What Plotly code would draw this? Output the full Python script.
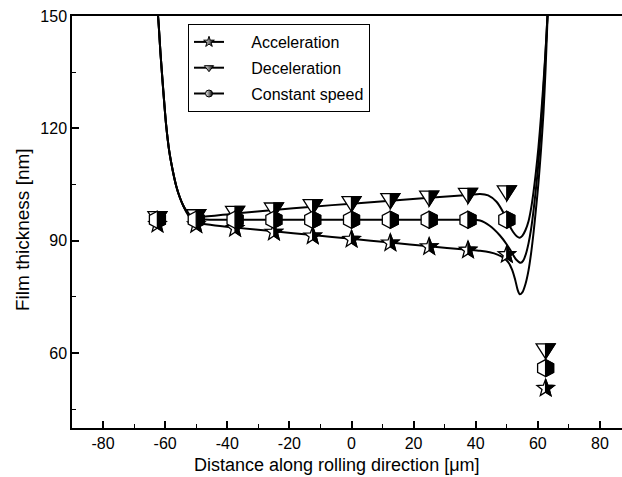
import math
import plotly.graph_objects as go

# ---------------- data ----------------
# simulated film-thickness profiles (lines)
accel_x = [-63.2, -62.3, -61.5, -60.6, -59.7, -58.7, -57.5, -56.4, -55.3, -54.2, -53.2, -52, -50, -45,
           -37.5, -25, -12.5, 0, 12.5, 25, 37.5, 41.4, 44.5, 47, 49, 50.5, 51.7, 52.7, 53.5, 54.2,
           55, 56, 57, 57.8, 58.6, 59.4, 60.2, 61, 61.8, 62.5, 63.1, 63.5]
accel_y = [156, 150, 140, 130, 121, 114, 108.5, 104.5, 101.6, 99.4, 97.7, 96.2, 94.9, 94.2,
           93.5, 92.5, 91.5, 90.5, 89.5, 88.5, 87.6, 87.3, 86.9, 86.3, 85.4, 84.2, 82.3, 79.6, 76.9, 75.7,
           76.2, 78.4, 82.1, 86.5, 92, 98.5, 105.5, 114, 124, 136, 149, 157]

decel_x = [-63.2, -62.3, -61.5, -60.6, -59.7, -58.7, -57.5, -56.4, -55.3, -54.2, -53.2, -52, -50,
           -37.5, -25, -12.5, 0, 12.5, 25, 37.5, 41.4, 44, 46.7, 48.7, 50.5, 52, 53.2, 54.2,
           55, 56, 57, 57.8, 58.6, 59.4, 60.2, 61, 61.8, 62.5, 63.1, 63.5]
decel_y = [156, 150, 140, 130, 121, 114, 108.5, 104.5, 101.6, 99.4, 98.1, 97.2, 96.4,
           97.3, 98.2, 99.1, 99.9, 100.7, 101.5, 102.2, 102.5, 102.1, 100.4, 97.8, 94.6, 92.4, 91.2, 90.8,
           91.3, 92.8, 95.2, 98.5, 103, 108.5, 115, 123, 132, 141, 150, 157]

const_x = [-63.2, -62.3, -61.5, -60.6, -59.7, -58.7, -57.5, -56.4, -55.3, -54.2, -53.2, -52, -50, -45,
           -37.5, -25, -12.5, 0, 12.5, 25, 37.5, 41.4, 44.5, 47.8, 50, 51.5, 53, 54.5,
           55.3, 56.2, 57, 57.8, 58.6, 59.4, 60.1, 60.9, 61.7, 62.4, 63.1, 63.5]
const_y = [156, 150, 140, 130, 121, 114, 108.5, 104.5, 101.6, 99.4, 97.9, 96.7, 95.9, 95.6,
           95.6, 95.6, 95.6, 95.6, 95.6, 95.6, 95.6, 95.4, 94.0, 91.4, 89.0, 87.0, 85.0, 84.1,
           84.7, 86.6, 89.3, 93, 98, 104, 110, 119, 129, 139, 150, 157]

# measured points (markers)
pt_x = [-62.5, -50, -37.5, -25, -12.5, 0, 12.5, 25, 37.5, 50, 62.5]
accel_pts = [94.4, 94.3, 93.3, 92.3, 91.3, 90.4, 89.4, 88.4, 87.5, 86.3, 50.6]
decel_pts = [95.9, 96.4, 97.3, 98.2, 99.1, 99.9, 100.7, 101.4, 102.1, 102.8, 60.6]
const_pts = [95.6, 95.6, 95.6, 95.6, 95.6, 95.6, 95.6, 95.6, 95.6, 95.6, 56.0]

names = ["Acceleration", "Deceleration", "Constant speed"]

x_tickvals = [-80, -60, -40, -20, 0, 20, 40, 60, 80]
x_ticktext = ["-80", "-60", "-40", "-20", "0", "20", "40", "60", "80"]
y_tickvals = [60, 90, 120, 150]
y_ticktext = ["60", "90", "120", "150"]

x_title = "Distance along rolling direction [\u03bcm]"
y_title = "Film thickness [nm]"

x_range = [-90, 87.1]
y_range = [40, 150]

# ---------------- marker geometry (pixels, y up) ----------------
def poly(pts):
    return "M " + " L ".join(f"{px:.2f},{py:.2f}" for px, py in pts) + " Z"

R_out, R_in = 9.0, 3.8
star_pts = []
for k in range(10):
    ang = math.radians(90 - 36 * k)
    rr = R_out if k % 2 == 0 else R_in
    star_pts.append((rr * math.cos(ang), rr * math.sin(ang)))
star_full = poly(star_pts)
star_right = poly(star_pts[0:6])

tri_full = poly([(-9.5, 7), (9.5, 7), (0, -8)])
tri_right = poly([(0, 7), (9.5, 7), (0, -8)])

hw, hr = 8.0, 8.5
hex_pts = [(0, hr), (hw, hr / 2), (hw, -hr / 2), (0, -hr), (-hw, -hr / 2), (-hw, hr / 2)]
hex_full = poly(hex_pts)
hex_right = poly(hex_pts[0:4])

def marker_shapes(xs, ys, full, right):
    out = []
    for xv, yv in zip(xs, ys):
        base = dict(type="path", xref="x", yref="y", xsizemode="pixel", ysizemode="pixel",
                    xanchor=xv, yanchor=yv, layer="above")
        out.append(dict(base, path=full, fillcolor="white", line=dict(color="black", width=1.3)))
        out.append(dict(base, path=right, fillcolor="black", line=dict(color="black", width=1.3)))
    return out

shapes = []
shapes += marker_shapes(pt_x, accel_pts, star_full, star_right)
shapes += marker_shapes(pt_x, decel_pts, tri_full, tri_right)
shapes += marker_shapes(pt_x, const_pts, hex_full, hex_right)

# ---------------- figure ----------------
fig = go.Figure()
line_style = dict(color="black", width=2, shape="spline", smoothing=0.8)
for xs, ys in [(accel_x, accel_y), (decel_x, decel_y), (const_x, const_y)]:
    fig.add_trace(go.Scatter(x=xs, y=ys, mode="lines", line=line_style, showlegend=False,
                             hoverinfo="skip"))

pad = "\u00a0" * 5
leg_symbols = ["star", "triangle-down", "circle"]
leg_sizes = [8, 8, 7]
for nm, sym, sz in zip(names, leg_symbols, leg_sizes):
    fig.add_trace(go.Scatter(x=[None], y=[None], mode="lines+markers", name=pad + nm,
                             legendgroup=nm,
                             line=dict(color="black", width=2),
                             marker=dict(symbol=sym, size=sz, color="white",
                                         gradient=dict(type="horizontal", color="black"),
                                         line=dict(color="black", width=1))))

axis_common = dict(showline=True, linecolor="black", linewidth=1.5, showgrid=False, zeroline=False,
                   ticks="inside", ticklen=7, tickwidth=1.5, tickcolor="black",
                   tickfont=dict(size=16, color="black"))

fig.update_layout(
    width=622, height=477,
    margin=dict(l=72, r=0, t=16, b=49),
    plot_bgcolor="white", paper_bgcolor="white",
    font=dict(family="Arial, 'Liberation Sans', sans-serif", size=16, color="black"),
    xaxis=dict(axis_common, range=x_range, tickvals=x_tickvals, ticktext=x_ticktext, mirror=True,
               minor=dict(dtick=10, tick0=0, ticks="inside", ticklen=4, tickwidth=1.2, tickcolor="black")),
    yaxis=dict(axis_common, range=y_range, tickvals=y_tickvals, ticktext=y_ticktext,
               minor=dict(dtick=15, tick0=0, ticks="inside", ticklen=4, tickwidth=1.2, tickcolor="black")),
    legend=dict(x=(188 - 72) / 550, y=(428 - 24) / 412, xanchor="left", yanchor="top",
                bordercolor="black", borderwidth=1, bgcolor="white",
                font=dict(size=16, color="black"), tracegroupgap=2),
    shapes=shapes,
    annotations=[
        dict(text=x_title, xref="paper", yref="paper", x=(337 - 72) / 550, y=(428 - 465) / 412,
             xanchor="center", yanchor="middle", showarrow=False, font=dict(size=18, color="black")),
        dict(text=y_title, xref="paper", yref="paper", x=(22 - 72) / 550, y=(428 - 230) / 412,
             xanchor="center", yanchor="middle", textangle=-90, showarrow=False,
             font=dict(size=19, color="black")),
    ],
)

fig.write_html("out.html")
